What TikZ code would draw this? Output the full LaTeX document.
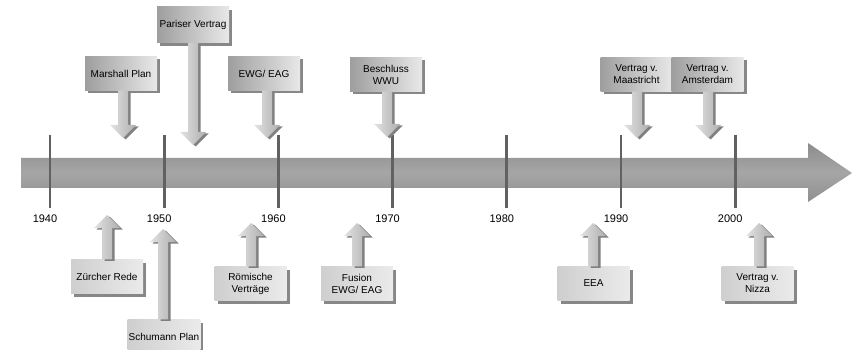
\documentclass[tikz,border=0pt]{standalone}
\usepackage{fontspec}
\setmainfont{Liberation Sans}
\usetikzlibrary{calc,shadows}

\tikzset{
  evtbox/.style={minimum width=72pt, minimum height=34pt, align=center,
    inner sep=1pt, font=\fontsize{10}{12}\selectfont,
    drop shadow={shadow xshift=3pt, shadow yshift=-3pt, fill=black!47, opacity=1}},
  topbox/.style={evtbox, left color=black!38, right color=black!9},
  lowbox/.style={evtbox, left color=black!19, right color=black!8},
  arrbody/.style={left color=black!11, right color=black!32},
  arrshadow/.style={fill=black!50, transform canvas={shift={(2.5pt,-1.5pt)}}},
  yeartick/.style={draw=black!62, line width=2.8pt},
  yearlabel/.style={font=\fontsize{11}{13}\selectfont, inner sep=0pt}
}

% block arrow from #1 (start) to #2 (tip)
\newcommand{\evtarrow}[2]{%
  \coordinate (s) at (#1);
  \coordinate (h) at ($(#2)!13pt!(s)$);
  \foreach \lay in {arrshadow,arrbody}{
    \path[\lay] ($(s)!5pt!90:(#2)$) -- ($(h)!5pt!90:(#2)$)
      -- ($(h)!13pt!90:(#2)$) -- (#2) -- ($(h)!13pt!-90:(#2)$)
      -- ($(h)!5pt!-90:(#2)$) -- ($(s)!5pt!-90:(#2)$) -- cycle;
  }
}

\begin{document}
\begin{tikzpicture}[x=1pt,y=-1pt]
  \useasboundingbox (0,0) rectangle (852,350);

  % Zeitachse
  \path[top color=black!45, bottom color=black!44, middle color=black!35]
    (21,158) -- (808,158) -- (808,143) -- (852,173)
    -- (808,202) -- (808,188) -- (21,188) -- cycle;

  % Jahre
  \foreach \yr [count=\i from 0] in {1940,1950,1960,1970,1980,1990,2000}{
    \draw[yeartick] ({50+114.2*\i},135) -- ({50+114.2*\i},208);
    \node[yearlabel] (y\yr) at ({45+114.2*\i},219) {\yr};
  }

  % Ereignisse oben
  \node[topbox] (mp) at (121,73.5) {Marshall Plan};
  \node[topbox, minimum height=36pt] (pv) at (193,25) {Pariser Vertrag};
  \node[topbox] (ewg) at (264,73.5) {EWG/ EAG};
  \node[topbox] (bw) at (386,74.5) {Beschluss\\WWU};
  \node[topbox] (mt) at (636.5,74.5) {Vertrag v.\\Maastricht};
  \node[topbox] (am) at (707.5,74.5) {Vertrag v.\\Amsterdam};

  % Ereignisse unten
  \node[lowbox] (zr) at (107,276.5) {Zürcher Rede};
  \node[lowbox] (sp) at (164,336.5) {Schumann Plan};
  \node[lowbox] (rv) at (250.5,283.5) {Römische\\Verträge};
  \node[lowbox] (fu) at (357,283.5) {Fusion\\EWG/ EAG};
  \node[lowbox] (eea) at (593.5,283.5) {EEA};
  \node[lowbox] (nz) at (757.5,283.5) {Vertrag v.\\Nizza};

  % Pfeilspitzen
  \coordinate (mptip) at (123,138);
  \coordinate (pvtip) at (193,145);
  \coordinate (ewgtip) at (267,138);
  \coordinate (bwtip) at (387,137);
  \coordinate (mttip) at (637,138);
  \coordinate (amtip) at (708,138);
  \coordinate (zrtip) at (107,215);
  \coordinate (sptip) at (163,229);
  \coordinate (rvtip) at (251,223);
  \coordinate (futip) at (357,223);
  \coordinate (eeatip) at (593,223);
  \coordinate (nztip) at (759,223);

  % Pfeile
  \evtarrow{mp.south -| mptip}{mptip}
  \evtarrow{pv.south -| pvtip}{pvtip}
  \evtarrow{ewg.south -| ewgtip}{ewgtip}
  \evtarrow{bw.south -| bwtip}{bwtip}
  \evtarrow{mt.south -| mttip}{mttip}
  \evtarrow{am.south -| amtip}{amtip}
  \evtarrow{zr.north -| zrtip}{zrtip}
  \evtarrow{sp.north -| sptip}{sptip}
  \evtarrow{rv.north -| rvtip}{rvtip}
  \evtarrow{fu.north -| futip}{futip}
  \evtarrow{eea.north -| eeatip}{eeatip}
  \evtarrow{nz.north -| nztip}{nztip}
\end{tikzpicture}
\end{document}
